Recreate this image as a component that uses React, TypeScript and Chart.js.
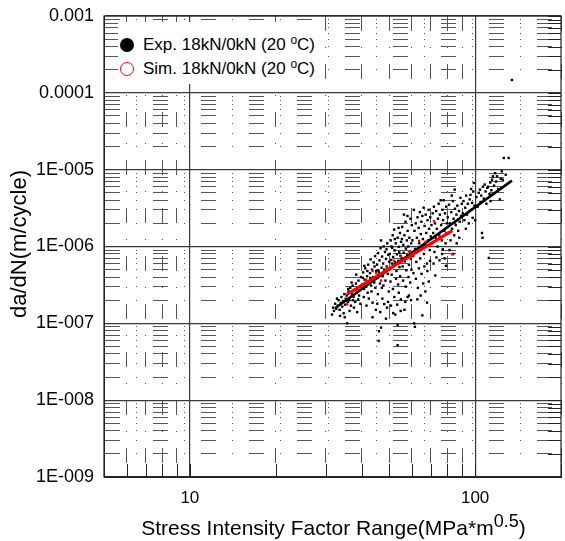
import React, { useEffect, useRef } from 'react';
import { Chart, registerables } from 'chart.js';

Chart.register(...registerables);

// ---------- data ----------
const xRange = [5, 200];
const yRange = [1e-9, 1e-3];
const xTickValues = [10, 100];
const xTickLabels = ['10', '100'];
const yTickValues = [1e-9, 1e-8, 1e-7, 1e-6, 1e-5, 1e-4, 1e-3];
const yTickLabels = ['1E-009', '1E-008', '1E-007', '1E-006', '1E-005', '0.0001', '0.001'];

const expLabel = 'Exp. 18kN/0kN (20 ';
const simLabel = 'Sim. 18kN/0kN (20 ';

// Experimental da/dN vs ΔK  [ΔK (MPa*m^0.5), da/dN (m/cycle)]
const expPoints: [number, number][] = [
  [31.5, 1.3e-7], [31.8, 1.6e-7], [32.0, 1.45e-7], [32.3, 1.8e-7], [32.6, 1.55e-7], [33.0, 1.7e-7], [33.2, 2.0e-7],
  [33.5, 1.5e-7], [33.8, 1.85e-7], [34.0, 2.2e-7], [34.2, 1.65e-7], [34.5, 1.95e-7], [34.8, 2.4e-7], [35.0, 1.75e-7],
  [33.6, 1.25e-7], [34.6, 1.35e-7], [32.8, 2.1e-7], [35.2, 2.1e-7], [34.9, 1.2e-7], [35.6, 1.0e-7],
  [35.5, 2.3e-7], [35.8, 1.9e-7], [36.0, 2.6e-7], [36.2, 2.0e-7], [36.5, 2.9e-7], [36.7, 1.7e-7], [37.0, 2.4e-7],
  [37.2, 3.1e-7], [37.5, 2.2e-7], [37.8, 2.7e-7], [38.0, 1.9e-7], [38.2, 3.3e-7], [38.5, 2.5e-7], [38.8, 2.9e-7],
  [39.0, 3.6e-7], [39.2, 2.3e-7], [39.5, 3.0e-7], [39.8, 4.0e-7], [36.3, 1.45e-7], [37.6, 1.6e-7], [38.6, 1.4e-7],
  [39.6, 1.8e-7], [36.9, 3.4e-7], [38.3, 4.3e-7], [35.9, 2.8e-7], [37.3, 2.0e-7], [39.3, 2.7e-7], [38.9, 2.05e-7],
  [40.2, 3.2e-7], [40.5, 4.6e-7], [40.8, 2.8e-7], [41.0, 3.7e-7], [41.2, 5.2e-7], [41.5, 3.0e-7], [41.8, 4.1e-7],
  [42.0, 2.5e-7], [42.2, 5.8e-7], [42.5, 3.5e-7], [42.8, 4.5e-7], [43.0, 6.8e-7], [43.2, 3.1e-7], [43.5, 5.0e-7],
  [43.7, 1.86e-7], [43.9, 4.0e-7], [44.1, 6.2e-7], [44.3, 3.4e-7], [44.6, 7.5e-7], [44.9, 1.5e-7], [45.0, 4.8e-7],
  [40.7, 2.2e-7], [41.6, 1.7e-7], [42.4, 2.1e-7], [43.7, 1.2e-7], [40.4, 3.9e-7], [41.9, 4.8e-7], [42.9, 3.9e-7],
  [44.4, 5.5e-7], [43.3, 2.6e-7], [44.7, 2.9e-7], [40.9, 5.6e-7],
  [45.3, 5.8e-7], [45.5, 3.9e-7], [45.7, 8.2e-7], [45.9, 5.9e-8], [46.0, 4.6e-7], [46.2, 6.6e-7], [46.4, 3.3e-7],
  [46.6, 9.5e-7], [46.8, 1.2e-6], [46.8, 8.8e-8], [47.0, 5.3e-7], [47.2, 7.4e-7], [47.4, 4.1e-7], [47.6, 6.0e-7],
  [47.8, 1.0e-6], [48.0, 1.78e-7], [48.0, 5.0e-7], [48.3, 8.5e-7], [48.5, 3.6e-7], [48.7, 1.15e-7], [48.7, 6.9e-7],
  [49.0, 5.5e-7], [49.2, 1.1e-6], [49.4, 4.4e-7], [49.6, 7.8e-7], [49.8, 2.6e-7], [50.0, 6.3e-7], [46.0, 7.9e-8],
  [45.6, 2.4e-7], [47.1, 2.9e-7], [46.5, 1.4e-7], [48.9, 9.2e-7], [47.7, 3.1e-7], [49.5, 1.9e-7], [45.8, 4.9e-7],
  [48.2, 4.7e-7], [45.4, 1.8e-7], [47.3, 2.1e-7], [49.1, 1.6e-7],
  [50.2, 8.0e-7], [50.4, 5.1e-7], [50.6, 1.2e-6], [50.8, 6.7e-7], [51.0, 4.3e-7], [51.2, 9.6e-7], [51.4, 1.4e-6],
  [51.6, 1.36e-7], [51.6, 7.3e-7], [51.8, 5.6e-7], [52.0, 1.66e-6], [52.2, 8.9e-7], [52.5, 1.3e-7], [52.5, 6.2e-7],
  [52.7, 1.1e-6], [53.0, 4.8e-7], [53.2, 7.9e-7], [53.5, 9.5e-8], [53.5, 5.2e-8], [53.5, 1.3e-6], [53.8, 6.5e-7],
  [54.0, 2.5e-7], [54.0, 9.9e-7], [54.3, 5.4e-7], [54.5, 1.5e-6], [54.7, 7.6e-7], [54.9, 2.05e-7], [55.0, 1.15e-6],
  [50.5, 3.5e-7], [51.5, 2.8e-7], [52.8, 3.8e-7], [53.7, 3.2e-7], [54.6, 4.1e-7], [50.9, 1.0e-6], [52.3, 1.25e-6],
  [53.9, 1.75e-6], [51.1, 6.0e-7], [54.2, 8.4e-7], [50.7, 1.7e-7], [52.1, 2.2e-7], [53.3, 1.75e-7], [54.8, 1.45e-7],
  [55.3, 7.0e-7], [55.5, 1.8e-6], [55.7, 5.5e-7], [56.0, 1.05e-6], [56.2, 8.3e-7], [56.5, 1.5e-7], [56.5, 1.4e-6],
  [56.7, 6.4e-7], [57.0, 2.1e-6], [57.2, 9.4e-7], [57.4, 4.9e-7], [57.6, 1.2e-6], [57.8, 7.7e-7], [58.0, 2.2e-7],
  [58.0, 1.6e-6], [58.3, 1.0e-6], [58.6, 2.3e-7], [58.6, 5.8e-7], [58.8, 1.3e-6], [59.0, 8.6e-7], [59.3, 2.3e-6],
  [59.5, 6.9e-7], [59.7, 1.1e-6], [60.0, 1.9e-6], [55.9, 3.6e-7], [57.1, 3.0e-7], [58.4, 4.0e-7], [59.2, 3.4e-7],
  [56.3, 2.6e-6], [57.9, 2.5e-6], [55.4, 1.25e-6], [59.8, 5.0e-7], [56.9, 1.9e-7], [59.6, 2.0e-7],
  [60.3, 1.2e-6], [60.6, 7.5e-7], [61.0, 3.0e-6], [61.1, 1.0e-7], [61.3, 1.6e-6], [61.5, 9.0e-8], [61.6, 9.3e-7],
  [61.9, 2.0e-6], [62.2, 6.3e-7], [62.5, 1.3e-6], [62.7, 2.05e-7], [62.8, 2.4e-6], [63.1, 8.8e-7], [63.4, 1.75e-6],
  [63.7, 1.1e-6], [64.0, 2.8e-6], [64.2, 7.0e-7], [64.5, 1.45e-6], [64.8, 2.1e-6], [65.0, 9.8e-7], [65.3, 1.27e-7],
  [65.3, 2.5e-6], [65.6, 1.25e-6], [66.0, 3.2e-6], [66.2, 8.0e-7], [66.5, 1.85e-6], [66.8, 1.05e-6], [67.1, 2.6e-6],
  [67.4, 1.5e-6], [67.8, 1.86e-7], [67.8, 6.0e-7], [68.1, 2.2e-6], [68.4, 1.2e-6], [68.7, 3.0e-6], [69.0, 1.7e-6],
  [69.3, 9.0e-7], [69.6, 2.4e-6], [69.9, 1.35e-6], [60.8, 4.5e-7], [62.0, 3.8e-7], [63.5, 5.2e-7], [64.9, 4.4e-7],
  [66.4, 5.5e-7], [68.0, 4.8e-7], [69.5, 6.5e-7], [63.0, 2.9e-7], [65.8, 3.3e-7], [68.8, 3.5e-7], [64.4, 2.3e-7],
  [66.9, 2.6e-7],
  [70.3, 1.9e-6], [70.6, 1.1e-6], [71.0, 2.7e-6], [71.3, 1.5e-6], [71.7, 3.3e-6], [72.0, 8.5e-7], [72.3, 2.0e-6],
  [72.7, 1.3e-6], [73.0, 2.9e-6], [73.4, 1.7e-6], [73.8, 1.0e-6], [74.1, 2.3e-6], [74.5, 3.6e-6], [74.8, 1.4e-6],
  [75.2, 2.6e-6], [75.7, 4.0e-6], [76.0, 1.9e-6], [76.4, 1.2e-6], [76.8, 3.0e-6], [77.2, 2.2e-6], [77.6, 4.0e-6],
  [78.0, 1.6e-6], [78.4, 2.7e-6], [78.8, 1.1e-6], [79.2, 3.3e-6], [79.6, 2.0e-6], [71.5, 6.0e-7], [73.2, 7.2e-7],
  [75.0, 6.6e-7], [76.6, 8.0e-7], [78.2, 7.0e-7], [79.0, 5.6e-7], [72.5, 4.2e-7], [77.0, 9.2e-7],
  [80.2, 2.4e-6], [80.6, 1.5e-6], [81.0, 3.5e-6], [81.5, 2.0e-6], [82.0, 1.2e-6], [82.5, 2.8e-6], [83.0, 1.7e-6],
  [83.5, 3.9e-6], [84.0, 2.3e-6], [84.5, 1.4e-6], [85.0, 3.1e-6], [85.5, 1.9e-6], [86.0, 2.6e-6], [86.6, 3.4e-6],
  [87.2, 1.6e-6], [87.8, 2.9e-6], [88.3, 2.1e-6], [88.8, 4.3e-6], [89.3, 2.5e-6], [89.8, 3.6e-6], [81.3, 9.0e-7],
  [83.8, 8.0e-7], [86.2, 1.1e-6], [88.0, 1.3e-6], [84.8, 5.5e-6], [82.8, 4.6e-6],
  [90.5, 2.7e-6], [91.0, 3.9e-6], [91.7, 2.2e-6], [92.3, 3.2e-6], [93.0, 4.6e-6], [93.6, 2.6e-6], [94.3, 3.6e-6],
  [95.0, 2.0e-6], [95.7, 4.1e-6], [96.3, 4.7e-6], [97.0, 3.0e-6], [97.6, 3.7e-6], [98.0, 2.36e-6], [98.5, 5.2e-6],
  [99.0, 6.7e-6], [99.5, 3.4e-6], [100.0, 2.2e-6], [92.8, 1.7e-6], [96.8, 5.6e-6],
  [101.0, 4.4e-6], [102.0, 3.3e-6], [103.0, 5.0e-6], [104.0, 5.5e-6], [104.5, 3.8e-6], [105.0, 4.6e-6],
  [105.7, 1.5e-6], [106.2, 1.3e-6], [106.5, 6.0e-6], [107.2, 4.2e-6], [108.0, 6.4e-6], [108.8, 5.2e-6],
  [109.5, 3.6e-6], [110.3, 5.8e-6], [111.0, 6.0e-6], [111.7, 7.1e-7], [112.3, 4.8e-6], [113.0, 6.8e-6],
  [113.3, 3.9e-6], [114.0, 5.4e-6], [114.6, 7.4e-6],
  [115.5, 8.2e-6], [116.5, 6.2e-6], [117.5, 9.0e-6], [118.5, 7.0e-6], [119.4, 8.2e-6], [120.5, 5.6e-6],
  [122.0, 4.1e-6], [123.0, 7.6e-6], [124.0, 9.5e-6], [125.0, 7.4e-6], [126.0, 1.42e-5], [128.0, 8.6e-6],
  [131.0, 1.42e-5], [134.6, 1.47e-4],
];

// Simulated da/dN vs ΔK
const simPoints: [number, number][] = [
  [35.6, 1.77e-7], [37.0, 2.6e-7], [38.5, 2.7e-7], [40.4, 3.1e-7], [41.5, 3.7e-7], [43.7, 4.8e-7], [45.0, 4.5e-7],
  [46.8, 3.6e-7], [49.0, 5.3e-7], [52.0, 6.5e-7], [55.0, 7.4e-7], [58.6, 8.6e-7], [59.4, 8.6e-7], [63.6, 1.18e-6],
  [67.0, 1.15e-6], [71.8, 2.13e-6], [75.0, 1.35e-6], [79.0, 1.5e-6], [83.2, 7.9e-7],
];

// Paris-law fit lines (end points)
const expFitDeltaK = [32.3, 134.6];
const expFitDaDn = [1.57e-7, 7.2e-6];
const simFitDeltaK = [35.5, 83.2];
const simFitDaDn = [2.38e-7, 1.61e-6];

// ---------- helpers ----------
const FONT = '"Liberation Sans", Arial, Helvetica, sans-serif';
const isDecade = (v: number) => {
  const l = Math.log10(v);
  return Math.abs(l - Math.round(l)) < 1e-6;
};
const isIntMantissa = (v: number) => {
  const e = Math.floor(Math.log10(v) + 1e-9);
  const m = v / Math.pow(10, e);
  return Math.abs(m - Math.round(m)) < 1e-6;
};
const labelFor = (values: number[], labels: string[]) => (v: any) => {
  const val = Number(v);
  const i = values.findIndex((t) => Math.abs(Math.log10(t) - Math.log10(val)) < 1e-6);
  return i >= 0 ? labels[i] : '';
};
const minorDash = [15, 16, 1, 16];

const framePlugin = {
  id: 'frame',
  beforeDatasetsDraw(chart: any) {
    const { ctx, chartArea: a, scales } = chart;
    ctx.save();
    ctx.strokeStyle = '#222';
    ctx.lineWidth = 1;
    ctx.setLineDash([]);
    ctx.beginPath();
    for (const t of scales.x.ticks) {
      const px = Math.round(scales.x.getPixelForValue(t.value)) + 0.5;
      ctx.moveTo(px, a.bottom);
      ctx.lineTo(px, a.bottom - 13);
    }
    for (const t of scales.y.ticks) {
      const py = Math.round(scales.y.getPixelForValue(t.value)) + 0.5;
      ctx.moveTo(a.right, py);
      ctx.lineTo(a.right - 13, py);
    }
    ctx.stroke();
    ctx.lineWidth = 1.2;
    ctx.strokeRect(a.left, a.top, a.right - a.left, a.bottom - a.top);
    ctx.restore();
  },
};

export default function App() {
  const ref = useRef<HTMLCanvasElement | null>(null);

  useEffect(() => {
    if (!ref.current) return;
    const gridOpts = {
      color: (c: any) => (c.tick && isDecade(c.tick.value) ? '#3a3a3a' : '#555'),
      lineWidth: (c: any) => (c.tick && isDecade(c.tick.value) ? 1.2 : 1),
      drawTicks: false,
    };
    const borderOpts = {
      display: true,
      color: '#222',
      width: 1,
      dash: (c: any) => (c.tick && !isDecade(c.tick.value) ? minorDash : []),
    };
    const chart = new Chart(ref.current, {
      type: 'scatter',
      data: {
        datasets: [
          {
            label: 'simFit',
            data: simFitDeltaK.map((x, i) => ({ x, y: simFitDaDn[i] })),
            showLine: true,
            borderColor: '#ff0000',
            borderWidth: 3,
            pointRadius: 0,
            order: 0,
          },
          {
            label: 'sim',
            data: simPoints.map(([x, y]) => ({ x, y })),
            pointStyle: 'rect',
            pointRadius: 1.7,
            borderWidth: 0,
            backgroundColor: '#ff0000',
            order: 1,
          },
          {
            label: 'expFit',
            data: expFitDeltaK.map((x, i) => ({ x, y: expFitDaDn[i] })),
            showLine: true,
            borderColor: '#000',
            borderWidth: 2.6,
            pointRadius: 0,
            order: 2,
          },
          {
            label: 'exp',
            data: expPoints.map(([x, y]) => ({ x, y })),
            pointStyle: 'rect',
            pointRadius: 1.7,
            borderWidth: 0,
            backgroundColor: '#000',
            order: 3,
          },
        ],
      },
      options: {
        animation: false,
        responsive: false,
        maintainAspectRatio: false,
        events: [],
        layout: { padding: { left: 0, top: 16, right: 1, bottom: 0 } },
        plugins: { legend: { display: false }, tooltip: { enabled: false } },
        scales: {
          x: {
            type: 'logarithmic',
            min: xRange[0],
            max: xRange[1],
            afterBuildTicks: (s: any) => {
              s.ticks = s.ticks.filter((t: any) => isIntMantissa(t.value));
            },
            afterFit: (s: any) => {
              s.height = 64;
              s.paddingLeft = 0;
              s.paddingRight = 0;
              s.paddingTop = 0;
              s.paddingBottom = 0;
            },
            grid: gridOpts,
            border: borderOpts,
            ticks: {
              autoSkip: false,
              maxRotation: 0,
              padding: 11,
              color: '#000',
              font: { family: FONT, size: 17 },
              callback: labelFor(xTickValues, xTickLabels),
            },
          },
          y: {
            type: 'logarithmic',
            min: yRange[0],
            max: yRange[1],
            afterBuildTicks: (s: any) => {
              s.ticks = s.ticks.filter((t: any) => isIntMantissa(t.value));
            },
            afterFit: (s: any) => {
              s.width = 104;
              s.paddingLeft = 0;
              s.paddingRight = 0;
              s.paddingTop = 0;
              s.paddingBottom = 0;
            },
            grid: gridOpts,
            border: borderOpts,
            ticks: {
              autoSkip: false,
              padding: 10,
              color: '#000',
              font: { family: FONT, size: 18 },
              callback: labelFor(yTickValues, yTickLabels),
            },
          },
        },
      } as any,
      plugins: [framePlugin],
    });
    return () => chart.destroy();
  }, []);

  const sup = { fontSize: 12, verticalAlign: '0.5em', lineHeight: 0 } as React.CSSProperties;

  return (
    <div style={{ position: 'absolute', left: 0, top: 0, width: 565, height: 541, overflow: 'hidden', background: '#fff', fontFamily: FONT, color: '#000' }}>
      <canvas ref={ref} width={565} height={541} style={{ position: 'absolute', left: 0, top: 0, width: 565, height: 541 }} />
      {/* legend */}
      <div style={{ position: 'absolute', left: 118, top: 22, width: 204, height: 62, background: '#fff' }} />
      <div style={{ position: 'absolute', left: 120, top: 38, width: 14, height: 14, borderRadius: '50%', background: '#000' }} />
      <div style={{ position: 'absolute', left: 143, top: 34, height: 22, lineHeight: '22px', fontSize: 17, whiteSpace: 'nowrap' }}>
        {expLabel}
        <span style={sup}>o</span>C)
      </div>
      <div style={{ position: 'absolute', left: 120, top: 62, width: 14, height: 14, borderRadius: '50%', border: '1.5px solid #ff0000', boxSizing: 'border-box', background: '#fff' }} />
      <div style={{ position: 'absolute', left: 143, top: 58, height: 22, lineHeight: '22px', fontSize: 17, whiteSpace: 'nowrap' }}>
        {simLabel}
        <span style={sup}>o</span>C)
      </div>
      {/* y axis title */}
      <div style={{ position: 'absolute', left: 19 - 150, top: 244 - 14, width: 300, height: 28, lineHeight: '28px', textAlign: 'center', fontSize: 22, transform: 'rotate(-90deg)', whiteSpace: 'nowrap' }}>
        da/dN(m/cycle)
      </div>
      {/* x axis title */}
      <div style={{ position: 'absolute', left: 104, top: 516, width: 459, height: 24, lineHeight: '24px', textAlign: 'center', fontSize: 21, whiteSpace: 'nowrap' }}>
        Stress Intensity Factor Range(MPa*m<span style={{ fontSize: 18, verticalAlign: '0.45em', lineHeight: 0 }}>0.5</span>)
      </div>
    </div>
  );
}
